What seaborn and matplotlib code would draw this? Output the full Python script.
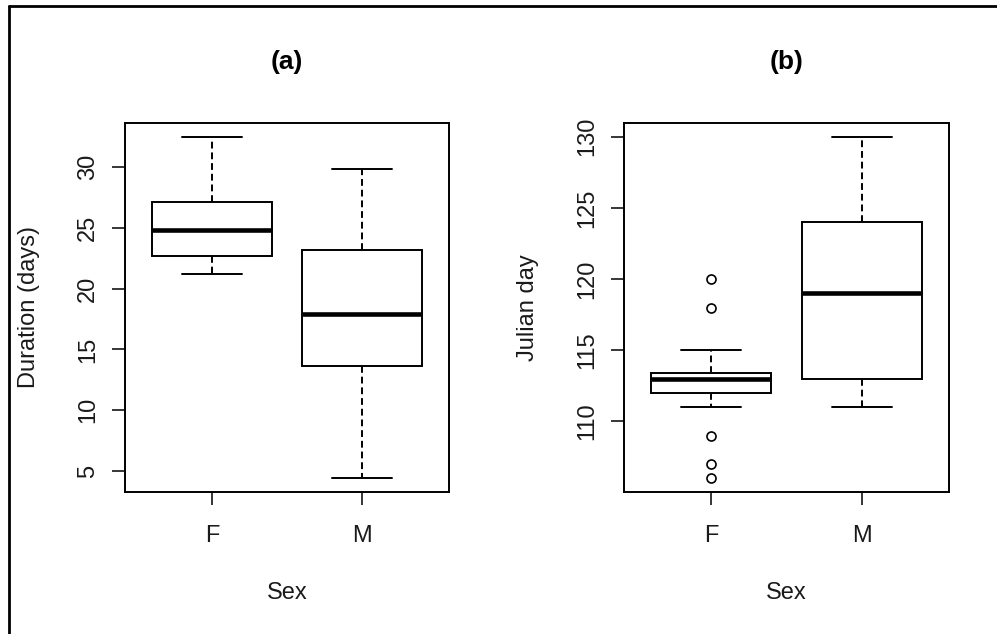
import matplotlib
matplotlib.use("Agg")
import matplotlib.pyplot as plt
from matplotlib.lines import Line2D
import seaborn as sns
import pandas as pd

# ---- data ----
sexes = ["F", "M"]
duration_F = [21.2, 22.7, 24.8, 27.1, 32.5]
duration_M = [4.4, 13.6, 17.9, 23.2, 29.8]
julian_F = [106, 107, 109, 111, 112, 112, 113, 113, 113, 113,
            113.4, 113.4, 113.4, 115, 115, 118, 120]
julian_M = [111, 113, 119, 124, 130]
duration_ticks = [5, 10, 15, 20, 25, 30]
julian_ticks = [110, 115, 120, 125, 130]
titles = ["(a)", "(b)"]
ylabels = ["Duration (days)", "Julian day"]
xlabel = "Sex"

df_a = pd.DataFrame({"Sex": ["F"] * len(duration_F) + ["M"] * len(duration_M),
                     "val": duration_F + duration_M})
df_b = pd.DataFrame({"Sex": ["F"] * len(julian_F) + ["M"] * len(julian_M),
                     "val": julian_F + julian_M})

sns.set_style("white")
plt.rcParams["font.family"] = ["Liberation Sans", "DejaVu Sans"]

W, H = 997, 634
fig = plt.figure(figsize=(W / 100, H / 100), dpi=100)
fig.patch.set_facecolor("white")

def px_axes(left, top, right, bottom):
    return fig.add_axes([left / W, 1 - bottom / H, (right - left) / W, (bottom - top) / H])

ax_a = px_axes(125, 123, 449, 492)
ax_b = px_axes(624, 123, 949, 492)

lw = 1.4
for ax, df, ticks, title, ylab in [(ax_a, df_a, duration_ticks, titles[0], ylabels[0]),
                                   (ax_b, df_b, julian_ticks, titles[1], ylabels[1])]:
    sns.boxplot(data=df, x="Sex", y="val", order=sexes, ax=ax,
                color="white", linecolor="black", linewidth=lw, width=0.8,
                whis=1.5, fliersize=6.5, saturation=1,
                whiskerprops={"linestyle": (0, (3.5, 2.0))},
                capprops={"linestyle": "-"},
                medianprops={"linewidth": 3.3, "solid_capstyle": "butt"},
                flierprops={"marker": "o", "markerfacecolor": "none",
                            "markeredgecolor": "black", "markeredgewidth": 1.2})
    vmin, vmax = df["val"].min(), df["val"].max()
    r = vmax - vmin
    ax.set_ylim(vmin - 0.04 * r, vmax + 0.04 * r)
    ax.set_xlim(-0.58, 1.58)
    ax.set_yticks(ticks)
    ax.set_yticklabels([str(t) for t in ticks])
    ax.tick_params(axis="y", labelrotation=90, length=9.4, width=1.1,
                   pad=9.5, labelsize=17, color="black", labelcolor="#1a1a1a", left=True)
    ax.tick_params(axis="x", length=9.4, width=1.1, pad=14.5, labelsize=17,
                   color="black", labelcolor="#1a1a1a", bottom=True)
    for t in ax.get_yticklabels():
        t.set_va("center")
    for s in ax.spines.values():
        s.set_visible(True)
        s.set_color("black")
        s.set_linewidth(1.4)
    ax.set_ylabel(ylab, fontsize=17, color="#1a1a1a")
    ax.yaxis.set_label_coords(-0.295, 0.5)
    ax.yaxis.label.set_va("center")
    ax.set_xlabel(xlabel, fontsize=17, color="#1a1a1a")
    ax.xaxis.set_label_coords(0.5, -0.274)
    ax.xaxis.label.set_va("center")
    ax.set_title(title, fontsize=19, fontweight="bold", y=1.144, va="center", color="black")

# outer frame (left and top edges visible in the reference)
fig.add_artist(Line2D([9 / W, 9 / W], [0, 1 - 6 / H], transform=fig.transFigure,
                      color="black", linewidth=2))
fig.add_artist(Line2D([9 / W, 1], [1 - 6 / H, 1 - 6 / H], transform=fig.transFigure,
                      color="black", linewidth=2))

fig.savefig("out.png", dpi=100, facecolor="white")
